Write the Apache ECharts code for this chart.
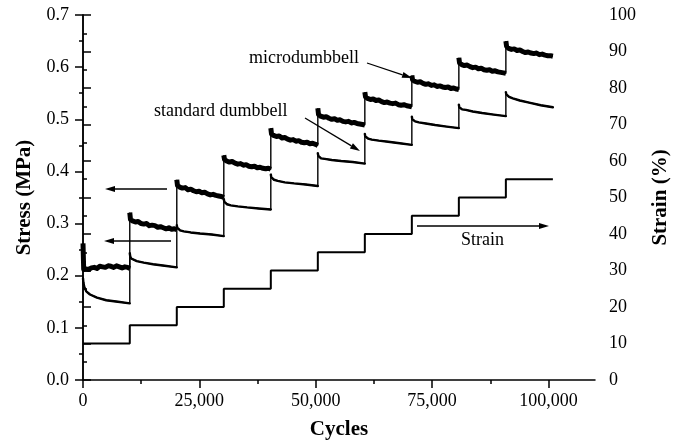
<!DOCTYPE html>
<html>
<head>
<meta charset="utf-8">
<script src="https://cdn.jsdelivr.net/npm/echarts@6/dist/echarts.min.js"></script>
<style>
  html, body { margin: 0; padding: 0; background: #fff; }
  #chart { width: 685px; height: 445px; }
</style>
</head>
<body>
<div id="chart"></div>
<script>
// Step boundaries in cycles; the strain is raised by 5 % at each boundary
const stepEdges = [0, 10050, 20150, 30250, 40350, 50450, 60550, 70650, 80750, 90850, 100950];
const strainLevels = [10, 15, 20, 25, 30, 35, 40, 45, 50, 55];

// Cycle offsets inside a step where the stress traces are sampled (last one = end of step)
const standardOffsets = [0, 100, 300, 700, 1500, 3000, 5000, 7500, 10100];
const microOffsets = [0, 150, 600, 1200, 1800, 2400, 3000, 3600, 4200, 4800, 5400,
                      6000, 6600, 7200, 7800, 8400, 9000, 9600, 10100];

// Standard dumbbell stress (MPa), one row per strain step
const standardStress = [
  [0.195, 0.186, 0.178, 0.170, 0.164, 0.158, 0.153, 0.150, 0.147],
  [0.243, 0.237, 0.233, 0.230, 0.228, 0.225, 0.222, 0.219, 0.216],
  [0.297, 0.292, 0.289, 0.287, 0.285, 0.283, 0.281, 0.279, 0.276],
  [0.347, 0.342, 0.339, 0.337, 0.335, 0.333, 0.331, 0.329, 0.327],
  [0.394, 0.389, 0.386, 0.384, 0.382, 0.379, 0.377, 0.375, 0.372],
  [0.435, 0.430, 0.427, 0.425, 0.424, 0.422, 0.420, 0.418, 0.415],
  [0.472, 0.467, 0.465, 0.463, 0.461, 0.459, 0.457, 0.454, 0.451],
  [0.505, 0.500, 0.498, 0.496, 0.494, 0.492, 0.489, 0.486, 0.483],
  [0.528, 0.523, 0.521, 0.519, 0.518, 0.515, 0.512, 0.509, 0.506],
  [0.552, 0.548, 0.545, 0.543, 0.540, 0.536, 0.532, 0.527, 0.523]
];

// Microdumbbell stress (MPa), one row per strain step (noisy signal)
const microStress = [
  [0.262, 0.212, 0.213, 0.212, 0.215, 0.216, 0.214, 0.218, 0.217, 0.216, 0.219, 0.218, 0.216, 0.219, 0.217, 0.215, 0.217, 0.216, 0.214],
  [0.321, 0.308, 0.305, 0.303, 0.304, 0.300, 0.299, 0.300, 0.296, 0.297, 0.296, 0.293, 0.294, 0.292, 0.290, 0.292, 0.289, 0.290, 0.288],
  [0.384, 0.373, 0.370, 0.368, 0.369, 0.365, 0.366, 0.363, 0.361, 0.362, 0.359, 0.360, 0.357, 0.355, 0.356, 0.354, 0.353, 0.352, 0.350],
  [0.431, 0.423, 0.420, 0.418, 0.419, 0.416, 0.414, 0.415, 0.412, 0.413, 0.410, 0.409, 0.410, 0.407, 0.408, 0.406, 0.405, 0.406, 0.404],
  [0.483, 0.472, 0.469, 0.467, 0.468, 0.464, 0.465, 0.462, 0.460, 0.461, 0.458, 0.459, 0.456, 0.455, 0.456, 0.453, 0.454, 0.452, 0.450],
  [0.521, 0.509, 0.506, 0.504, 0.505, 0.502, 0.500, 0.501, 0.498, 0.499, 0.496, 0.495, 0.496, 0.493, 0.494, 0.492, 0.491, 0.490, 0.489],
  [0.552, 0.543, 0.540, 0.538, 0.539, 0.536, 0.537, 0.534, 0.532, 0.533, 0.531, 0.530, 0.531, 0.528, 0.527, 0.528, 0.526, 0.525, 0.524],
  [0.584, 0.576, 0.573, 0.571, 0.572, 0.569, 0.567, 0.568, 0.565, 0.566, 0.563, 0.564, 0.562, 0.561, 0.562, 0.559, 0.560, 0.558, 0.557],
  [0.618, 0.608, 0.605, 0.603, 0.604, 0.601, 0.599, 0.600, 0.597, 0.598, 0.595, 0.594, 0.595, 0.592, 0.593, 0.591, 0.590, 0.589, 0.588],
  [0.650, 0.640, 0.636, 0.634, 0.635, 0.632, 0.633, 0.630, 0.628, 0.629, 0.627, 0.626, 0.627, 0.624, 0.625, 0.623, 0.622, 0.622, 0.621]
];

// Axis ticks
const cycleMajorTicks = [0, 25000, 50000, 75000, 100000];
const cycleMinorTicks = [12500, 37500, 62500, 87500];

const FONT = '"Liberation Serif", "Times New Roman", serif';
const INK = '#000';

// Turn per-step rows into [cycles, value] pairs; optionally break the line between steps
function buildTrace(offsets, rows, breakBetweenSteps) {
  const pts = [];
  rows.forEach((vals, k) => {
    const s = stepEdges[k], e = stepEdges[k + 1];
    vals.forEach((v, i) => pts.push([Math.min(s + offsets[i], e), v]));
    if (breakBetweenSteps) pts.push([e, '-']);
  });
  return pts;
}

const strainData = strainLevels.map((lv, k) => [stepEdges[k], lv]);
strainData.push([stepEdges[stepEdges.length - 1], strainLevels[strainLevels.length - 1]]);

const axisLineStyle = { color: INK, width: 1.5 };
const labelStyle = { color: INK, fontFamily: FONT, fontSize: 18 };
const titleStyle = { color: INK, fontFamily: FONT, fontSize: 21, fontWeight: 'bold' };

const chart = echarts.init(document.getElementById('chart'), null, { renderer: 'canvas' });

// Arrow graphics: shaft plus a filled head at the "to" end
function arrow(from, to) {
  const dx = to[0] - from[0], dy = to[1] - from[1];
  const len = Math.hypot(dx, dy), ux = dx / len, uy = dy / len;
  const hl = 10, hw = 3;
  const bx = to[0] - ux * hl, by = to[1] - uy * hl;
  return [
    { type: 'line', shape: { x1: from[0], y1: from[1], x2: bx, y2: by },
      style: { stroke: INK, lineWidth: 1.3 }, z: 10 },
    { type: 'polygon', shape: { points: [to, [bx - uy * hw, by + ux * hw], [bx + uy * hw, by - ux * hw]] },
      style: { fill: INK }, z: 10 }
  ];
}

function label(text, x, y) {
  return { type: 'text', x: x, y: y, z: 10,
    style: { text: text, font: '18px ' + FONT, fill: INK,
             textAlign: 'left', textVerticalAlign: 'middle', align: 'left', verticalAlign: 'middle' } };
}

const graphics = [].concat(
  arrow([167, 189], [105, 189]),
  arrow([171, 241], [104, 241]),
  arrow([417, 226], [549, 226]),
  arrow([367, 63], [412, 78]),
  arrow([305, 118], [360, 151]),
  [label('microdumbbell', 249, 58), label('standard dumbbell', 154, 111), label('Strain', 461, 240)]
);

const option = {
  animation: false,
  backgroundColor: '#fff',
  grid: { left: 83, right: 90, top: 15, bottom: 65 },
  xAxis: [
    {
      type: 'value', min: 0, max: 110000,
      name: 'Cycles', nameLocation: 'middle', nameGap: 39, nameTextStyle: titleStyle,
      axisLine: { show: true, lineStyle: axisLineStyle },
      axisTick: { show: true, inside: false, length: 8, lineStyle: axisLineStyle, customValues: cycleMajorTicks },
      axisLabel: { ...labelStyle, margin: 12, customValues: cycleMajorTicks,
        formatter: v => Math.round(v).toString().replace(/\B(?=(\d{3})+(?!\d))/g, ',') },
      splitLine: { show: false }
    },
    {
      type: 'value', min: 0, max: 110000, position: 'bottom',
      axisLine: { show: false },
      axisTick: { show: true, inside: false, length: 4, lineStyle: axisLineStyle, customValues: cycleMinorTicks },
      axisLabel: { show: false },
      splitLine: { show: false }
    }
  ],
  yAxis: [
    {
      type: 'value', min: 0, max: 0.7, interval: 0.1, position: 'left',
      name: 'Stress (MPa)', nameLocation: 'middle', nameRotate: 90, nameGap: 48, nameTextStyle: titleStyle,
      axisLine: { show: true, lineStyle: axisLineStyle },
      axisTick: { show: true, inside: false, length: 8, lineStyle: axisLineStyle },
      minorTick: { show: true, splitNumber: 2, length: 4, lineStyle: axisLineStyle },
      axisLabel: { ...labelStyle, margin: 14, formatter: v => v.toFixed(1) },
      splitLine: { show: false }
    },
    {
      type: 'value', min: 0, max: 100, interval: 10, position: 'right',
      name: 'Strain (%)', nameLocation: 'middle', nameRotate: 90, nameGap: 55, nameTextStyle: titleStyle,
      axisLine: { show: true, lineStyle: axisLineStyle },
      axisTick: { show: true, inside: false, length: 8, lineStyle: axisLineStyle },
      minorTick: { show: true, splitNumber: 2, length: 4, lineStyle: axisLineStyle },
      axisLabel: { ...labelStyle, margin: 14 },
      splitLine: { show: false }
    }
  ],
  series: [
    {
      name: 'Strain', type: 'line', xAxisIndex: 0, yAxisIndex: 1, step: 'end',
      data: strainData, showSymbol: false, lineStyle: { color: INK, width: 2 }
    },
    {
      name: 'standard dumbbell', type: 'line', xAxisIndex: 0, yAxisIndex: 0,
      data: buildTrace(standardOffsets, standardStress, false), showSymbol: false,
      lineStyle: { color: INK, width: 1.4 }
    },
    {
      name: 'standard dumbbell decay', type: 'line', xAxisIndex: 0, yAxisIndex: 0,
      data: buildTrace(standardOffsets, standardStress, true), showSymbol: false, connectNulls: false,
      lineStyle: { color: INK, width: 2.4, join: 'round', cap: 'round' }
    },
    {
      name: 'microdumbbell', type: 'line', xAxisIndex: 0, yAxisIndex: 0,
      data: buildTrace(microOffsets, microStress, false), showSymbol: false,
      lineStyle: { color: INK, width: 1.4 }
    },
    {
      name: 'microdumbbell band', type: 'line', xAxisIndex: 0, yAxisIndex: 0,
      data: buildTrace(microOffsets, microStress, true), showSymbol: false, connectNulls: false,
      lineStyle: { color: INK, width: 5, join: 'round', cap: 'butt' }
    }
  ],
  graphic: graphics
};

chart.setOption(option);
</script>
</body>
</html>
